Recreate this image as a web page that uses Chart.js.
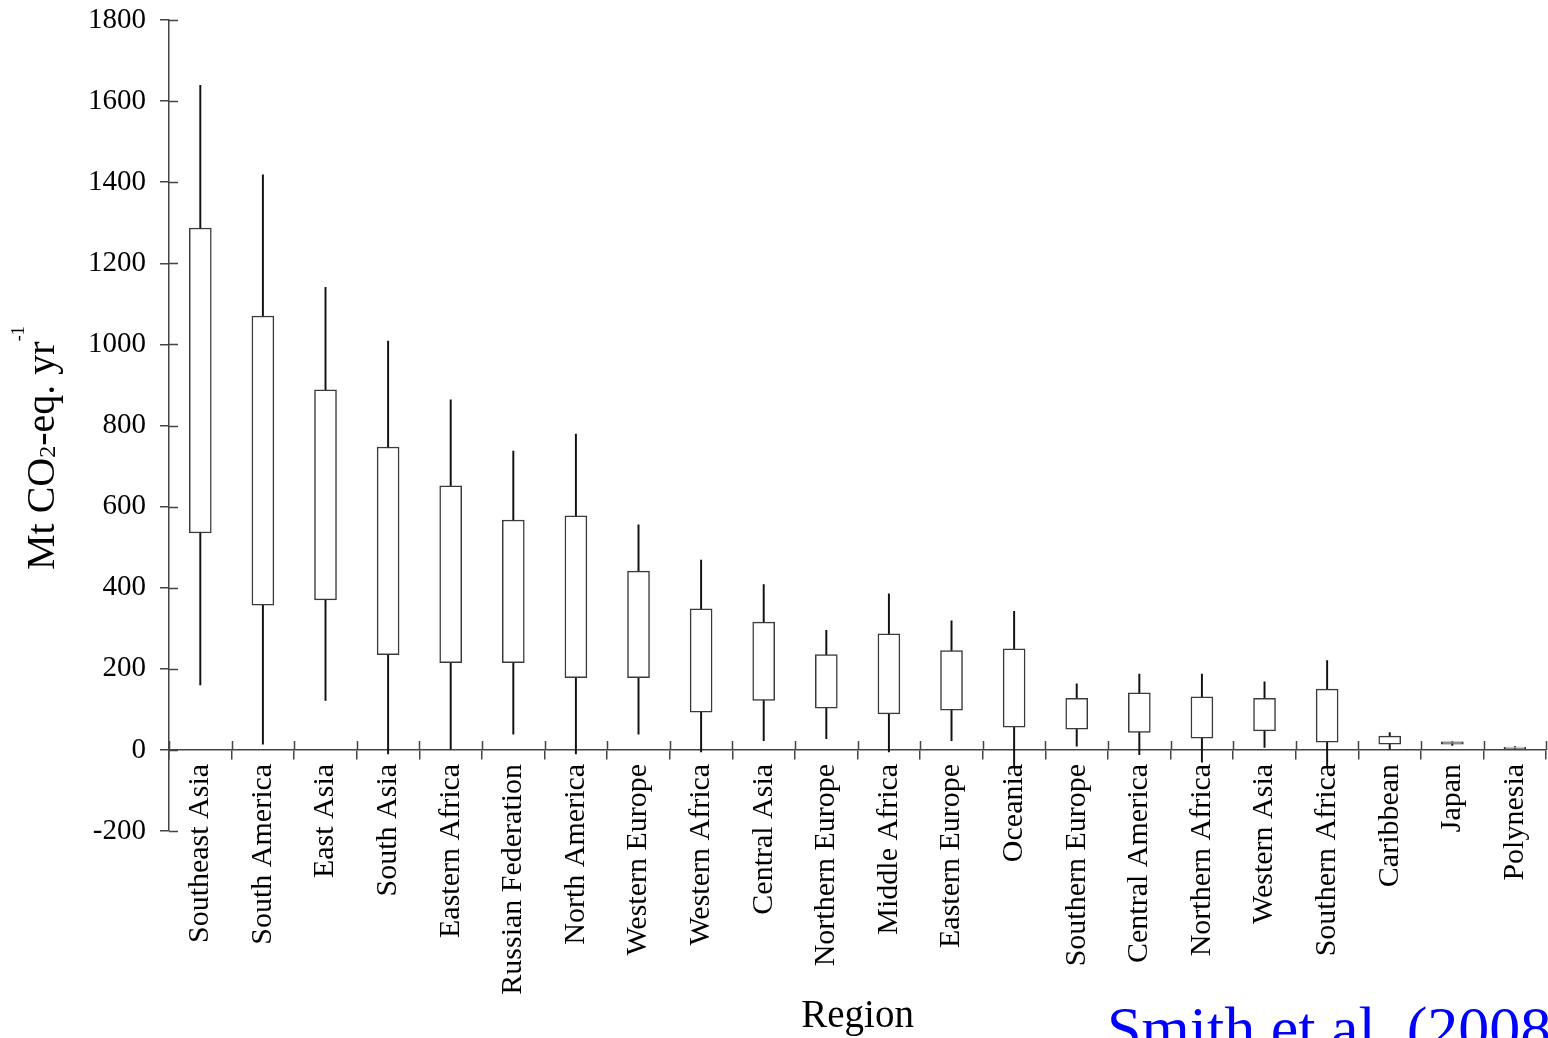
<!DOCTYPE html>
<html>
<head>
<meta charset="utf-8">
<title>Mt CO2-eq. yr-1 by region</title>
<script src="https://cdn.jsdelivr.net/npm/chart.js@4.4.1/dist/chart.umd.min.js"></script>
<style>
  html, body { margin: 0; padding: 0; background: #ffffff; overflow: hidden; }
  #wrap { width: 1548px; height: 1038px; overflow: hidden; position: relative; }
  #chart { display: block; }
</style>
</head>
<body>
<div id="wrap"><canvas id="chart" width="1556" height="1038"></canvas></div>
<script>
// Regions, ordered by the size of their range
const regions = [
  'Southeast Asia', 'South America', 'East Asia', 'South Asia', 'Eastern Africa',
  'Russian Federation', 'North America', 'Western Europe', 'Western Africa', 'Central Asia',
  'Northern Europe', 'Middle Africa', 'Eastern Europe', 'Oceania', 'Southern Europe',
  'Central America', 'Northern Africa', 'Western Asia', 'Southern Africa', 'Caribbean',
  'Japan', 'Polynesia'
];

// Whisker ends (Mt CO2-eq. per year)
const whiskerMin = [160, 14, 122, -10, 0, 39, -10, 39, -5, 23, 28, -5, 23, -40, 9, -12, -30, 6, -40, 0, 11, 0];
const whiskerMax = [1639, 1418, 1141, 1008, 863, 737, 779, 555, 468, 408, 295, 385, 318, 342, 163, 187, 187, 168, 220, 43, 20, 8];

// Box ends (Mt CO2-eq. per year)
const boxLow  = [535, 357, 370, 235, 215, 215, 178, 178, 93, 122, 103, 89, 98, 56, 51, 43, 29, 47, 19, 14, 14, 3];
const boxHigh = [1287, 1070, 888, 747, 651, 567, 577, 441, 348, 315, 235, 286, 245, 249, 127, 141, 131, 127, 150, 34, 20, 7];

// Value axis range
const yMin = -200;
const yMax = 1800;
const yStep = 200;

const serif = "'Liberation Serif', 'Times New Roman', Times, serif";
const axisColor = '#444444';
const tickLen = 9;

Chart.defaults.font.family = serif;
Chart.defaults.color = '#000000';

// Tick marks cross the axis lines: Chart.js draws the outer half, this draws the inner half
const innerTicks = {
  id: 'innerTicks',
  afterDraw(chart) {
    const { ctx, scales: { x, y } } = chart;
    const zeroY = y.getPixelForValue(0);
    ctx.save();
    ctx.strokeStyle = axisColor;
    ctx.lineWidth = 1.5;
    ctx.beginPath();
    y.ticks.forEach(t => {
      const py = Math.round(y.getPixelForValue(t.value)) + 0.5;
      ctx.moveTo(y.right, py);
      ctx.lineTo(y.right + tickLen, py);
    });
    const half = (x.getPixelForValue(1) - x.getPixelForValue(0)) / 2;
    for (let i = 0; i <= regions.length; i++) {
      const px = Math.round(x.getPixelForValue(i) - half) + 0.5;
      ctx.moveTo(px, zeroY - tickLen);
      ctx.lineTo(px, zeroY);
    }
    ctx.stroke();
    ctx.restore();
  }
};

// Rotated value-axis title with sub- and superscript, plus the source note
const annotations = {
  id: 'annotations',
  afterDraw(chart) {
    const { ctx } = chart;
    ctx.save();
    ctx.fillStyle = '#000000';
    ctx.textBaseline = 'alphabetic';
    ctx.translate(54, 570);
    ctx.rotate(-Math.PI / 2);
    let cx = 0;
    const part = (text, size, dy) => {
      ctx.font = size + 'px ' + serif;
      ctx.fillText(text, cx, dy);
      cx += ctx.measureText(text).width;
    };
    part('Mt CO', 40, 0);
    part('2', 24, 1);
    part('-eq. yr', 40, 0);
    part('-1', 18, -30);
    ctx.restore();

    ctx.save();
    ctx.fillStyle = '#0000ff';
    ctx.font = '62px ' + serif;
    ctx.textBaseline = 'alphabetic';
    ctx.fillText('Smith et al. (2008)', 1107, 1049);
    ctx.restore();
  }
};

new Chart(document.getElementById('chart'), {
  type: 'bar',
  data: {
    labels: regions,
    datasets: [
      {
        label: 'Box',
        data: regions.map((_, i) => [boxLow[i], boxHigh[i]]),
        backgroundColor: '#ffffff',
        borderColor: '#3a3a3a',
        borderWidth: 1.5,
        borderSkipped: false,
        barThickness: 22,
        grouped: false
      },
      {
        label: 'Range',
        data: regions.map((_, i) => [whiskerMin[i], whiskerMax[i]]),
        backgroundColor: '#111111',
        borderWidth: 0,
        barThickness: 1.3,
        grouped: false
      }
    ]
  },
  options: {
    responsive: false,
    animation: false,
    events: [],
    layout: { padding: { left: 0, top: 20, right: 3, bottom: 207 } },
    plugins: {
      legend: { display: false },
      tooltip: { enabled: false },
      title: { display: false }
    },
    scales: {
      x: {
        type: 'category',
        position: { y: 0 },
        offset: true,
        grid: {
          offset: true,
          drawOnChartArea: false,
          drawTicks: true,
          tickLength: tickLen,
          color: axisColor,
          lineWidth: 1.5
        },
        border: { display: true, color: axisColor, width: 1.5 },
        ticks: {
          autoSkip: false,
          minRotation: 90,
          maxRotation: 90,
          padding: 5,
          color: '#000000',
          font: { family: serif, size: 30 }
        },
        title: {
          display: true,
          text: 'Region',
          color: '#000000',
          font: { family: serif, size: 39 },
          padding: 0
        },
        afterFit(scale) { scale.height = 290; }
      },
      y: {
        type: 'linear',
        position: 'left',
        min: yMin,
        max: yMax,
        grid: {
          drawOnChartArea: false,
          drawTicks: true,
          tickLength: tickLen,
          color: axisColor,
          lineWidth: 1.5
        },
        border: { display: true, color: axisColor, width: 1.5 },
        ticks: {
          stepSize: yStep,
          padding: 14,
          color: '#000000',
          font: { family: serif, size: 29 },
          callback: (value) => String(value)
        },
        afterFit(scale) {
          scale.width = 169;
          scale.paddingTop = 0;
          scale.paddingBottom = 0;
        }
      }
    }
  },
  plugins: [innerTicks, annotations]
});
</script>
</body>
</html>
